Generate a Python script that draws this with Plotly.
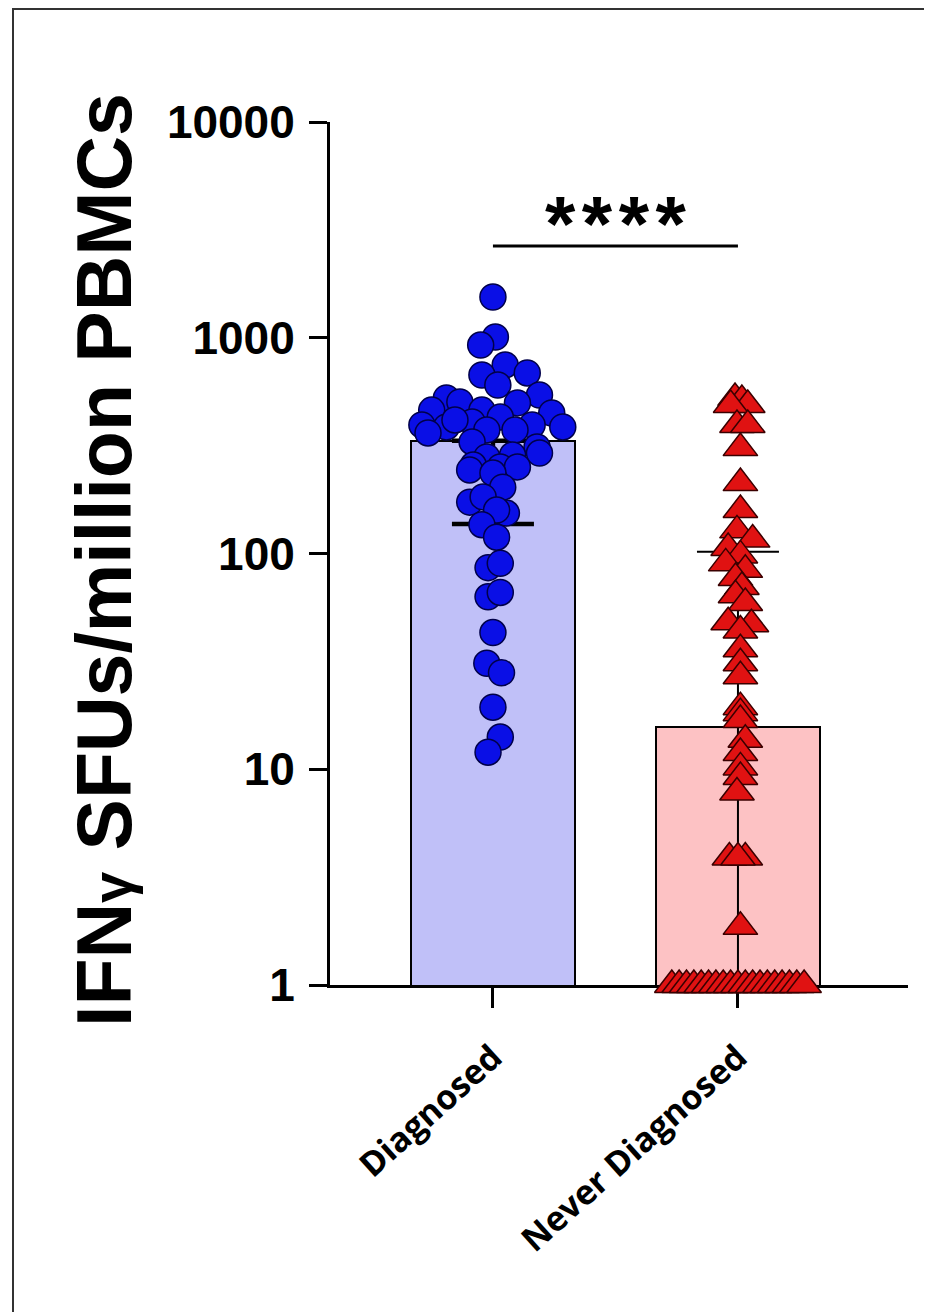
import plotly.graph_objects as go

# ---------------- data ----------------
categories = ["Diagnosed", "Never Diagnosed"]
bar_values = [333, 15.7]
error_low_end = [137, 1]      # lower end of the error line
error_high_end = [333, 102]   # upper end of the error line

diagnosed_values = [1545, 1008, 925, 748, 672, 687, 604, 543, 526, 504, 499, 462,
                    462, 448, 429, 394, 386, 386, 394, 374, 407, 374, 329, 312,
                    280, 286, 257, 252, 292, 244, 252, 236, 203, 173, 183, 154,
                    159, 136, 119, 86, 90, 63, 66, 43, 31, 28, 19.4, 14.1, 12.0,
                    416, 362]
diagnosed_jitter = [0.00, 0.01, -0.05, 0.05, -0.045, 0.14, 0.02, 0.19, -0.19, -0.135,
                    0.10, -0.25, -0.045, 0.24, 0.03, -0.29, 0.285, -0.19, 0.16, 0.09,
                    -0.085, -0.025, -0.085, 0.18, -0.025, 0.08, -0.08, 0.03, 0.19,
                    -0.095, 0.10, 0.0, 0.04, -0.095, -0.04, 0.055, 0.015, -0.045,
                    0.015, -0.02, 0.03, -0.02, 0.03, 0.0, -0.025, 0.035, 0.0, 0.03,
                    -0.02, -0.155, -0.265]

never_values = [526, 515, 488, 488, 394, 394, 308, 212, 159, 128, 116, 106, 98, 90,
                84, 77, 70, 64, 59, 48, 47, 44, 36, 31, 27, 19.4, 18.2, 16.9, 13.7,
                11.9, 10.2, 9.2, 7.8, 3.9, 3.9, 3.9, 1.86,
                1, 1, 1, 1, 1, 1, 1, 1, 1, 1, 1, 1, 1, 1, 1, 1, 1, 1, 1]
never_jitter = [-0.012, 0.016, 0.04, -0.03, -0.004, 0.04, 0.01, 0.01, 0.01, -0.004,
                0.06, -0.04, 0.01, -0.05, 0.03, -0.01, 0.016, -0.01, 0.03, -0.04,
                0.055, 0.01, 0.01, 0.01, 0.01, 0.01, 0.01, 0.01, 0.03, 0.01, 0.01,
                0.01, -0.004, -0.035, 0.03, 0.0, 0.01,
                -0.27, -0.24, -0.21, -0.18, -0.15, -0.12, -0.09, -0.06, -0.03, 0.0,
                0.03, 0.06, 0.09, 0.12, 0.15, 0.18, 0.21, 0.24, 0.27]

y_tick_values = [1, 10, 100, 1000, 10000]
y_tick_labels = ["1", "10", "100", "1000", "10000"]
y_title = "IFN<span style='font-size:56px'>γ</span> SFUs/million PBMCs"
sig_pair = [0, 1]
sig_level = 2661
sig_text = "*\u200a*\u200a*\u200a*"
sig_text_level = 3100

# ---------------- figure ----------------
# the page body adds an 8px offset, so the figure is laid out 8px smaller
W, H = 924, 1304
L, R, T, B = 322, 24, 114, 327
fig = go.Figure()

bar_fill = ["#C0C0F8", "#FDC2C4"]
err_width = [4.5, 2]
for i, cat in enumerate(categories):
    fig.add_trace(go.Bar(
        x=[i], y=[bar_values[i]], width=0.668,
        marker=dict(color=bar_fill[i], line=dict(color="#000000", width=2)),
        error_y=dict(type="data", symmetric=False,
                     array=[error_high_end[i] - bar_values[i]],
                     arrayminus=[bar_values[i] - error_low_end[i]],
                     color="#000000", thickness=err_width[i], width=41),
        showlegend=False, hoverinfo="skip"))

fig.add_trace(go.Scatter(
    x=[0 + j for j in diagnosed_jitter], y=diagnosed_values, mode="markers",
    marker=dict(symbol="circle", size=26, color="#0A0FE6",
                line=dict(color="#00004A", width=1.5)),
    cliponaxis=False, showlegend=False))

fig.add_trace(go.Scatter(
    x=[1 + j for j in never_jitter], y=never_values, mode="markers",
    marker=dict(symbol="triangle-up", size=30, color="#E01212",
                line=dict(color="#3A0000", width=1.5)),
    cliponaxis=False, showlegend=False))

# significance bar
fig.add_trace(go.Scatter(
    x=sig_pair, y=[sig_level, sig_level], mode="lines",
    line=dict(color="#000000", width=3), cliponaxis=False,
    showlegend=False, hoverinfo="skip"))
fig.add_trace(go.Scatter(
    x=[sum(sig_pair) / 2], y=[sig_text_level], mode="text", text=[sig_text],
    textfont=dict(family="Liberation Sans, Arial", size=78, color="#000000", weight="bold"),
    textposition="middle center", cliponaxis=False, showlegend=False))

pw = W - L - R
ph = H - T - B
fig.add_annotation(
    text=y_title, textangle=-90, xref="paper", yref="paper",
    x=(96 - L) / pw, y=(H - B - 552) / ph, xanchor="center", yanchor="middle",
    showarrow=False,
    font=dict(family="Liberation Sans, Arial", size=77, color="#000000", weight="bold"))

# outer frame
fig.add_shape(type="rect", xref="paper", yref="paper",
              x0=(5 - L) / pw, x1=(922.5 - L) / pw,
              y0=(H - B - 1330) / ph, y1=(H - B - 1) / ph,
              line=dict(color="#333333", width=2), fillcolor="rgba(0,0,0,0)")

fig.update_layout(
    width=W, height=H, autosize=False,
    margin=dict(l=L, r=R, t=T, b=B, pad=0),
    paper_bgcolor="#FFFFFF", plot_bgcolor="#FFFFFF",
    bargap=0, showlegend=False,
    xaxis=dict(range=[-0.665, 1.694], tickvals=[0, 1], ticktext=categories,
               showgrid=False, zeroline=False, showline=True, linecolor="#000000",
               linewidth=3, ticks="outside", ticklen=20, tickwidth=3,
               tickcolor="#000000", tickangle=-42, layer="below traces",
               ticklabelstandoff=16,
               tickfont=dict(family="Open Sans", size=34, color="#000000", weight="bold")),
    yaxis=dict(type="log", range=[0, 4], tickvals=y_tick_values, ticktext=y_tick_labels,
               showgrid=False, zeroline=False, showline=True, linecolor="#000000",
               linewidth=3, ticks="outside", ticklen=18, tickwidth=3,
               tickcolor="#000000", layer="below traces", ticklabelstandoff=5,
               tickfont=dict(family="Liberation Sans, Arial", size=46, color="#000000",
                             weight="bold")),
)

fig.write_html("out.html")
